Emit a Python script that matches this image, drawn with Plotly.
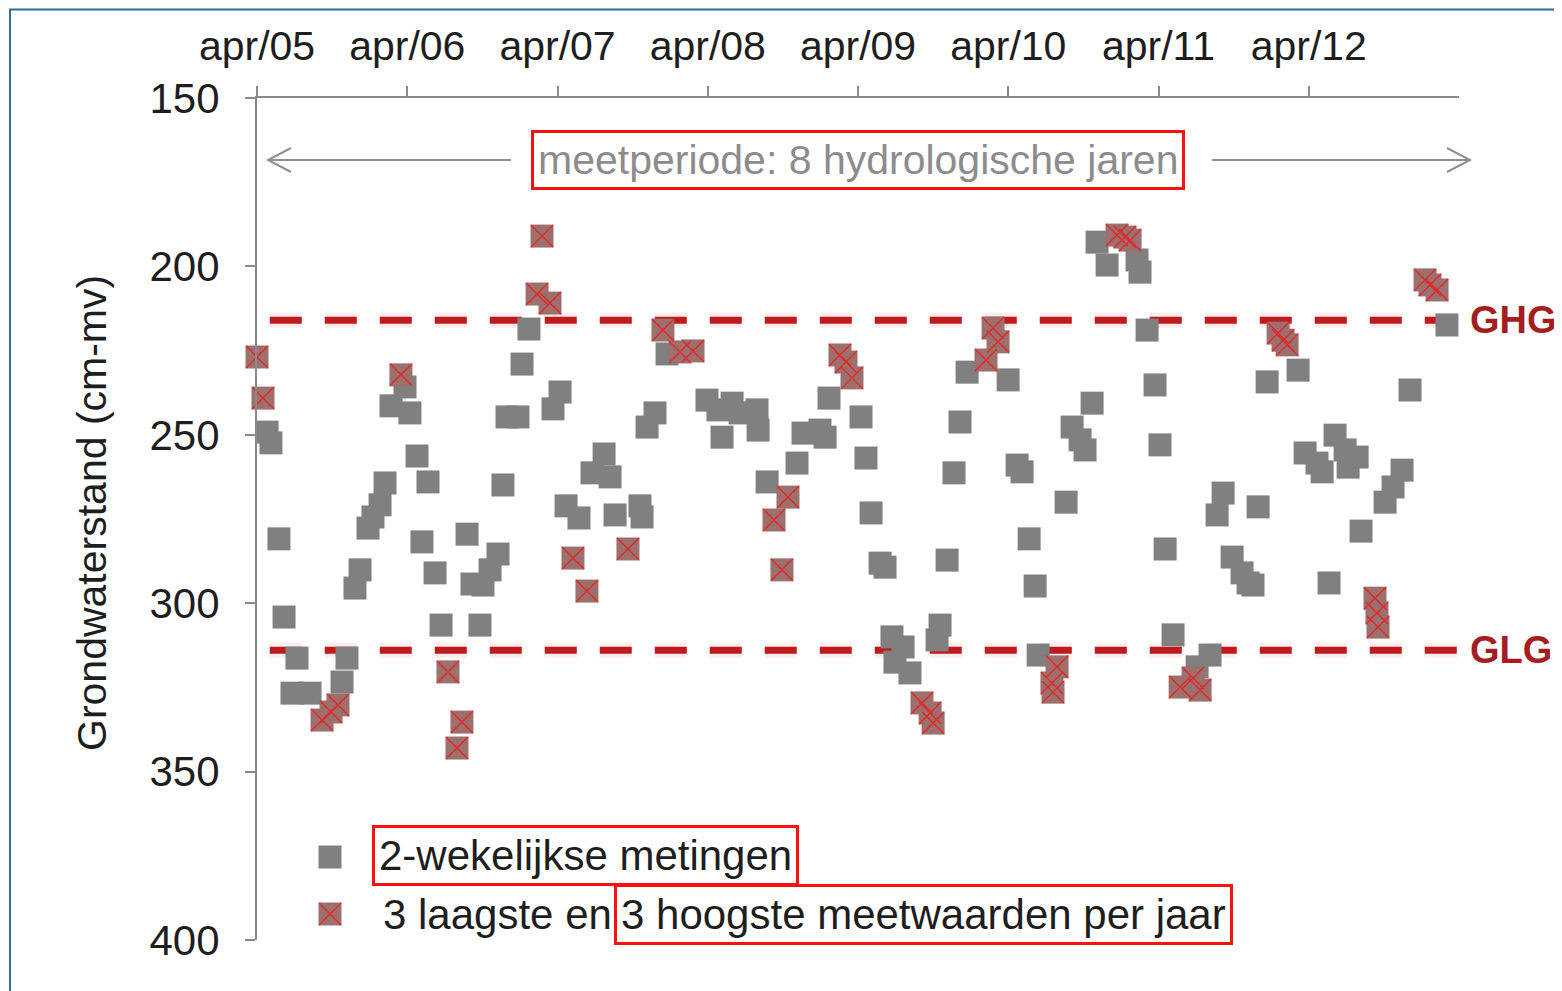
import plotly.graph_objects as go

# ---------------- data (decimal years, hydrological years start 1 April) ----------------
GRAY_T = [
    2005.317, 2005.343, 2005.396, 2005.430, 2005.483, 2005.516, 2005.603, 2005.816, 2005.849,
    2005.902, 2005.936, 2005.989, 2006.022, 2006.069, 2006.102, 2006.142, 2006.235,
    2006.268, 2006.315, 2006.348, 2006.388, 2006.435, 2006.475, 2006.648, 2006.681, 2006.734,
    2006.754, 2006.801, 2006.854, 2006.887, 2006.914, 2006.987, 2007.014, 2007.060, 2007.220,
    2007.267, 2007.307, 2007.393, 2007.480, 2007.560, 2007.600, 2007.633, 2007.799, 2007.813,
    2007.846, 2007.899, 2007.979,
    2008.245, 2008.318, 2008.345, 2008.412, 2008.465, 2008.578, 2008.585,
    2008.645, 2008.844, 2008.884, 2008.997, 2009.031, 2009.057,
    2009.270, 2009.303, 2009.337, 2009.397, 2009.430, 2009.476, 2009.496, 2009.550, 2009.596,
    2009.776, 2009.796, 2009.843, 2009.889, 2009.929, 2009.976, 2010.249,
    2010.309, 2010.342, 2010.389, 2010.429, 2010.449, 2010.635, 2010.675, 2010.728, 2010.761,
    2010.808, 2010.841, 2010.908, 2011.107, 2011.127, 2011.174, 2011.227,
    2011.260, 2011.294, 2011.347, 2011.507, 2011.593, 2011.640, 2011.680, 2011.740, 2011.806,
    2011.846, 2011.879, 2011.913, 2011.973, 2012.179,
    2012.226, 2012.305, 2012.339, 2012.385, 2012.425, 2012.492, 2012.512, 2012.572, 2012.598,
    2012.758, 2012.811, 2012.871, 2012.924, 2013.170,
]
GRAY_V = [
    249.2, 252.4, 280.9, 304.1, 326.7, 316.3, 326.7, 323.4, 316.3,
    295.5, 290.1, 277.7, 274.4, 270.8, 264.3, 241.4, 235.8,
    243.5, 256.3, 281.8, 264.0, 291.0, 306.5, 279.5, 294.3, 306.5,
    294.6, 290.1, 285.4, 264.9, 244.7, 244.7, 229.0, 218.6, 242.3,
    237.3, 271.1, 274.7, 261.3, 255.7, 262.5, 273.8, 271.1, 274.4,
    247.7, 243.5, 226.0,
    239.7, 242.6, 250.7, 240.6, 243.5, 242.6, 248.6,
    264.0, 258.4, 249.5, 248.6, 250.7, 239.1,
    244.7, 256.9, 273.2, 288.1, 289.3, 310.0, 317.5, 313.0, 320.7,
    310.9, 306.5, 287.2, 261.3, 246.2, 231.4, 233.7,
    259.0, 261.0, 280.9, 294.9, 315.4, 270.0, 247.7, 251.5, 254.5,
    240.6, 192.8, 199.6, 198.1, 201.7, 218.9, 235.2,
    253.0, 283.9, 309.4, 318.9, 315.4, 273.8, 267.3, 286.3, 291.0,
    294.0, 294.6, 271.4, 234.3, 230.8,
    255.4, 258.4, 261.0, 294.0, 250.1, 254.5, 259.6, 256.6, 278.6,
    270.0, 265.5, 260.5, 236.7, 217.4,
]

# 3 lowest and 3 highest measurements per hydrological year
HL_T = [
    2005.250, 2005.290, 2005.683, 2005.743, 2005.789, 2006.208,
    2006.521, 2006.581, 2006.614, 2007.114, 2007.147, 2007.200,
    2007.353, 2007.446, 2007.719, 2007.952, 2008.065, 2008.152,
    2008.691, 2008.744, 2008.784, 2009.130, 2009.170, 2009.210,
    2009.676, 2009.730, 2009.750, 2010.102, 2010.149, 2010.182,
    2010.541, 2010.548, 2010.575, 2010.974, 2011.027, 2011.061,
    2011.394, 2011.480, 2011.527, 2012.046, 2012.079, 2012.106,
    2012.691, 2012.704, 2012.711, 2013.024, 2013.057, 2013.104,
]
HL_V = [
    226.9, 239.1, 334.7, 332.3, 330.2, 232.2,
    320.4, 343.0, 335.3, 208.2, 191.0, 210.9,
    286.6, 296.4, 283.9, 218.9, 225.4, 225.1,
    275.3, 290.1, 268.5, 226.3, 228.4, 233.1,
    329.6, 332.6, 335.6, 227.8, 218.3, 222.4,
    323.7, 326.4, 318.9, 190.7, 191.3, 192.2,
    324.9, 322.2, 325.8, 219.8, 221.9, 223.3,
    298.5, 302.9, 307.1, 204.0, 205.5, 207.0,
]

GHG = 216
GLG = 314
PERIOD = [2005.25, 2013.25]
X_TICKS = [2005.25, 2006.25, 2007.25, 2008.25, 2009.25, 2010.25, 2011.25, 2012.25]
X_LABELS = ["apr/05", "apr/06", "apr/07", "apr/08", "apr/09", "apr/10", "apr/11", "apr/12"]
Y_TICKS = [150, 200, 250, 300, 350, 400]

# ---------------- layout helpers ----------------
W, H = 1562, 991
OFF = 8                      # page body margin
L, R, T, B = 257, 1459, 98, 940   # plot area in screen pixels
FONT = "Arial, 'Liberation Sans', sans-serif"
AX = "#8a8a8a"
TXT = "#1e1e1e"
GRAY = "#808080"
HL_FILL = "#9d6f6d"
HL_LINE = "#e02a2a"
BOX = "#ff1010"
DASH = "#bf1a1e"
MSIZE = 23


def xp(px):
    return (px - L) / (R - L)


def yp(py):
    return (B - py) / (B - T)


def hl_markers(x, y, **kw):
    fill = go.Scatter(x=x, y=y, mode="markers", cliponaxis=False, hoverinfo="skip",
                      marker=dict(symbol="square", size=MSIZE, color=HL_FILL, line=dict(width=0)), **kw)
    cross = go.Scatter(x=x, y=y, mode="markers", cliponaxis=False, hoverinfo="skip",
                       marker=dict(symbol="x-thin", size=MSIZE - 1,
                                   line=dict(color=HL_LINE, width=1.4)), **kw)
    return [fill, cross]


fig = go.Figure()

fig.add_trace(go.Scatter(
    x=GRAY_T, y=GRAY_V, mode="markers", cliponaxis=False, hoverinfo="skip",
    marker=dict(symbol="square", size=MSIZE, color=GRAY, line=dict(width=0)),
))
for tr in hl_markers(HL_T, HL_V):
    fig.add_trace(tr)

# legend samples on an invisible overlay axis (0..1 = plot area)
fig.add_trace(go.Scatter(
    x=[xp(330)], y=[yp(857)], xaxis="x2", yaxis="y2", mode="markers", cliponaxis=False,
    marker=dict(symbol="square", size=MSIZE, color=GRAY, line=dict(width=0)), hoverinfo="skip",
))
for tr in hl_markers([xp(330)], [yp(914)], xaxis="x2", yaxis="y2"):
    fig.add_trace(tr)

shapes = []
# GHG / GLG dashed lines with a faint halo
for lvl in (GHG, GLG):
    shapes.append(dict(type="line", xref="x", yref="y", x0=PERIOD[0] + 0.085, x1=PERIOD[1] - 0.01,
                       y0=lvl, y1=lvl, layer="below",
                       line=dict(color="rgba(255,120,120,0.14)", width=15, dash="32px,23px")))
    shapes.append(dict(type="line", xref="x", yref="y", x0=PERIOD[0] + 0.085, x1=PERIOD[1] - 0.01,
                       y0=lvl, y1=lvl, layer="below",
                       line=dict(color=DASH, width=7, dash="32px,23px")))

# measurement-period arrows
arrow_line = dict(color="#8f8f8f", width=2)
shapes.append(dict(type="line", xref="paper", yref="paper", x0=xp(268), x1=xp(511),
                   y0=yp(160), y1=yp(160), line=arrow_line))
shapes.append(dict(type="path", xref="paper", yref="paper",
                   path=f"M {xp(291)},{yp(148)} L {xp(268)},{yp(160)} L {xp(291)},{yp(172)}",
                   line=arrow_line))
shapes.append(dict(type="line", xref="paper", yref="paper", x0=xp(1212), x1=xp(1470),
                   y0=yp(160), y1=yp(160), line=arrow_line))
shapes.append(dict(type="path", xref="paper", yref="paper",
                   path=f"M {xp(1447)},{yp(148)} L {xp(1470)},{yp(160)} L {xp(1447)},{yp(172)}",
                   line=arrow_line))
# outer frame
shapes.append(dict(type="rect", xref="paper", yref="paper", x0=xp(10), x1=xp(1600),
                   y0=yp(1040), y1=yp(9.5), line=dict(color="#2d6f8e", width=2)))

annotations = [
    dict(text="meetperiode: 8 hydrologische jaren", xref="paper", yref="paper",
         x=xp(858), y=yp(160), xanchor="center", yanchor="middle", showarrow=False,
         font=dict(family=FONT, size=41, color="#8c8c8c"),
         bordercolor=BOX, borderwidth=3, borderpad=4, bgcolor="white"),
    dict(text="<b>GHG</b>", xref="paper", yref="y", x=xp(1468), y=GHG, xanchor="left",
         yanchor="middle", showarrow=False, font=dict(family=FONT, size=38, color="#a51d1f")),
    dict(text="<b>GLG</b>", xref="paper", yref="y", x=xp(1468), y=GLG, xanchor="left",
         yanchor="middle", showarrow=False, font=dict(family=FONT, size=38, color="#a51d1f")),
    dict(text="Grondwaterstand (cm-mv)", xref="paper", yref="paper", x=xp(92), y=yp(513),
         xanchor="center", yanchor="middle", textangle=-90, showarrow=False,
         font=dict(family=FONT, size=41, color=TXT)),
    dict(text="2-wekelijkse metingen", xref="paper", yref="paper", x=xp(585), y=yp(855),
         xanchor="center", yanchor="middle", showarrow=False,
         font=dict(family=FONT, size=42, color=TXT),
         bordercolor=BOX, borderwidth=3, borderpad=4),
    dict(text="3 laagste en", xref="paper", yref="paper", x=xp(381), y=yp(914),
         xanchor="left", yanchor="middle", showarrow=False,
         font=dict(family=FONT, size=42, color=TXT)),
    dict(text="3 hoogste meetwaarden per jaar", xref="paper", yref="paper", x=xp(924), y=yp(914),
         xanchor="center", yanchor="middle", showarrow=False,
         font=dict(family=FONT, size=42, color=TXT),
         bordercolor=BOX, borderwidth=3, borderpad=4),
]

fig.update_layout(
    width=W, height=H,
    margin=dict(l=L - OFF, r=W - (R - OFF), t=T - OFF, b=H - (B - OFF), pad=0),
    paper_bgcolor="white", plot_bgcolor="white",
    showlegend=False,
    font=dict(family=FONT, size=40, color=TXT),
    xaxis=dict(
        range=PERIOD, side="top", showgrid=False, zeroline=False,
        showline=True, linecolor=AX, linewidth=2,
        tickmode="array", tickvals=X_TICKS, ticktext=X_LABELS,
        ticks="outside", ticklen=10, tickwidth=2, tickcolor=AX,
        tickfont=dict(family=FONT, size=41, color=TXT), ticklabelstandoff=10,
    ),
    yaxis=dict(
        range=[400, 150], showgrid=False, zeroline=False,
        showline=True, linecolor=AX, linewidth=2,
        tickmode="array", tickvals=Y_TICKS,
        ticks="outside", ticklen=10, tickwidth=2, tickcolor=AX,
        tickfont=dict(family=FONT, size=42, color=TXT), ticklabelstandoff=17,
    ),
    xaxis2=dict(range=[0, 1], overlaying="x", anchor="y2", visible=False),
    yaxis2=dict(range=[0, 1], overlaying="y", anchor="x2", visible=False),
    shapes=shapes,
    annotations=annotations,
)

fig.write_html("out.html")
